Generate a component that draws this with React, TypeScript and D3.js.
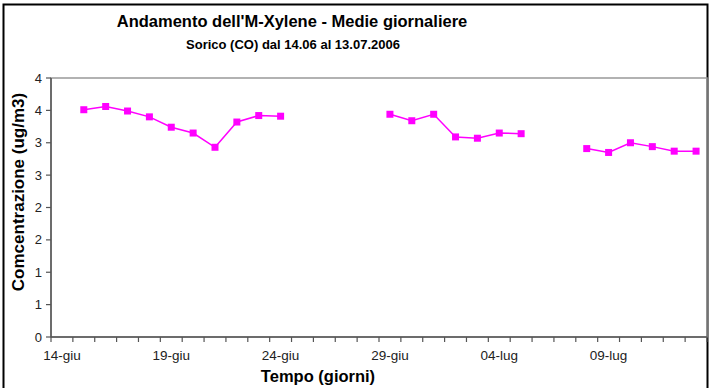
import React from "react";
import * as d3 from "d3";

const categories: string[] = [
  "14-giu", "15-giu", "16-giu", "17-giu", "18-giu", "19-giu", "20-giu", "21-giu", "22-giu", "23-giu",
  "24-giu", "25-giu", "26-giu", "27-giu", "28-giu", "29-giu", "30-giu", "01-lug", "02-lug", "03-lug",
  "04-lug", "05-lug", "06-lug", "07-lug", "08-lug", "09-lug", "10-lug", "11-lug", "12-lug", "13-lug",
];

const values: (number | null)[] = [
  null, 3.51, 3.56, 3.49, 3.40, 3.24, 3.15, 2.93, 3.32, 3.42,
  3.41, null, null, null, null, 3.44, 3.34, 3.44, 3.09, 3.07,
  3.15, 3.14, null, null, 2.91, 2.85, 3.00, 2.94, 2.87, 2.87,
];

const tickLabelsShown: string[] = ["14-giu", "19-giu", "24-giu", "29-giu", "04-lug", "09-lug"];
const yTicks: number[] = [0, 0.5, 1, 1.5, 2, 2.5, 3, 3.5, 4];

const title = "Andamento dell'M-Xylene - Medie giornaliere";
const subtitle = "Sorico (CO) dal 14.06 al 13.07.2006";
const yTitle = "Comcentrazione (ug/m3)";
const xTitle = "Tempo (giorni)";

export default function App() {
  const W = 709, H = 388;
  const left = 51, right = 707, top = 78, bottom = 337;
  const x = d3.scaleBand<string>().domain(categories).range([left, right]).padding(0);
  const y = d3.scaleLinear().domain([0, 4]).range([bottom, top]);
  const bw = x.bandwidth();

  const pts = categories.map((c, i) => ({ c, v: values[i] }));
  const line = d3
    .line<{ c: string; v: number | null }>()
    .defined((d) => d.v !== null)
    .x((d) => (x(d.c) as number) + bw / 2)
    .y((d) => y(d.v as number));

  const font = "'Liberation Sans', Arial, sans-serif";
  const axisColor = "#555";
  const ms = 7;

  return (
    <svg
      width={W}
      height={H}
      style={{ position: "absolute", left: 0, top: 0, background: "#fff" }}
      fontFamily={font}
    >
      <rect x={3.5} y={4.5} width={704} height={400} fill="#fff" stroke="#000" strokeWidth={2} />
      <text x={292} y={27} textAnchor="middle" fontSize={16.5} fontWeight="bold" fill="#000">
        {title}
      </text>
      <text x={293} y={49} textAnchor="middle" fontSize={13} fontWeight="bold" fill="#000">
        {subtitle}
      </text>
      <rect x={left} y={top} width={right - left} height={bottom - top} fill="none" stroke="#999" strokeWidth={1.5} />
      <line x1={left} x2={left} y1={top} y2={bottom} stroke={axisColor} strokeWidth={1.5} />
      <line x1={left} x2={right} y1={bottom} y2={bottom} stroke={axisColor} strokeWidth={1.5} />
      {yTicks.map((t) => (
        <g key={t}>
          <line x1={left - 5} x2={left} y1={y(t)} y2={y(t)} stroke={axisColor} strokeWidth={1.2} />
          <text x={left - 9} y={y(t) + 4.5} textAnchor="end" fontSize={13} fill="#222">
            {Math.round(t)}
          </text>
        </g>
      ))}
      {d3.range(categories.length + 1).map((i) => {
        const xx = left + i * bw;
        return <line key={i} x1={xx} x2={xx} y1={bottom} y2={bottom + 5} stroke={axisColor} strokeWidth={1.2} />;
      })}
      {categories.map((c) =>
        tickLabelsShown.includes(c) ? (
          <text key={c} x={(x(c) as number) + bw / 2} y={360} textAnchor="middle" fontSize={13.5} fill="#222">
            {c}
          </text>
        ) : null
      )}
      <path d={line(pts) || ""} fill="none" stroke="#FF00FF" strokeWidth={1.5} />
      {pts
        .filter((d) => d.v !== null)
        .map((d) => (
          <rect
            key={d.c}
            x={(x(d.c) as number) + bw / 2 - ms / 2}
            y={y(d.v as number) - ms / 2}
            width={ms}
            height={ms}
            fill="#FF00FF"
          />
        ))}
      <text
        transform={`translate(24,192) rotate(-90)`}
        textAnchor="middle"
        fontSize={17}
        fontWeight="bold"
        fill="#000"
      >
        {yTitle}
      </text>
      <text x={318} y={382} textAnchor="middle" fontSize={16.5} fontWeight="bold" fill="#000">
        {xTitle}
      </text>
    </svg>
  );
}
